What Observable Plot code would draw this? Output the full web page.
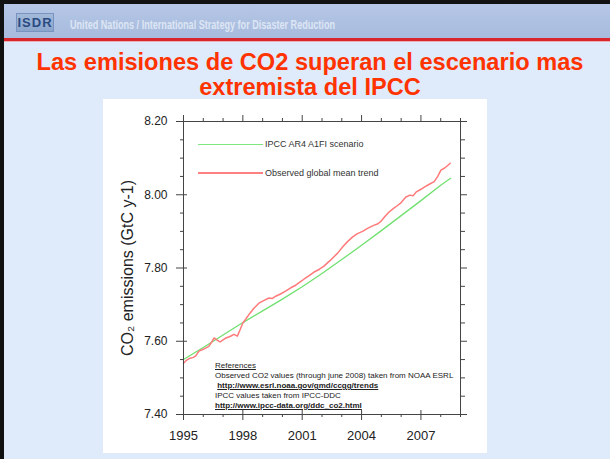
<!DOCTYPE html>
<html><head><meta charset="utf-8">
<script src="https://cdn.jsdelivr.net/npm/d3@7"></script>
<script src="https://cdn.jsdelivr.net/npm/@observablehq/plot@0.6"></script>
<style>
html,body{margin:0;padding:0;background:#dfeafb;}
body{width:610px;height:459px;overflow:hidden;font-family:"Liberation Sans",Arial,sans-serif;}
#slide{position:relative;width:610px;height:459px;background:#dfeafb;overflow:hidden;}
.abs{position:absolute;}
#header{left:0;top:0;width:610px;height:38px;background:linear-gradient(#b7c8e7,#a8bbdd);}
#redline{left:0;top:38px;width:610px;height:3px;background:#d8262c;}
#redline2{left:0;top:41px;width:610px;height:1px;background:#e9b0b8;}
#bt{left:0;top:0;width:610px;height:4px;background:#111;}
#bl{left:0;top:0;width:4px;height:459px;background:#111;}
#logo{left:16px;top:13px;width:38px;height:19px;background:linear-gradient(#a3bad9,#8aa4cc);border:1px solid #7893bf;box-sizing:border-box;font:bold 13px "Liberation Sans",Arial,sans-serif;color:#2b4a82;letter-spacing:1px;line-height:18px;text-align:center;}
#htext{left:70px;top:18px;font:bold 12px "Liberation Sans Narrow","Liberation Sans",Arial,sans-serif;color:#dde6f4;white-space:nowrap;transform-origin:0 0;}
#title{left:0;top:50px;width:620px;text-align:center;font:bold 23.6px "Liberation Sans",Arial,sans-serif;color:#ff3300;line-height:25px;}
#chart{left:103px;top:99px;width:384px;height:354px;background:#fff;}
.leg{position:absolute;height:0;}
.legt{position:absolute;font:9px "Liberation Sans",Arial,sans-serif;color:#333;white-space:nowrap;line-height:10px;}
#refs{left:215px;top:361px;font:8px "Liberation Sans",Arial,sans-serif;color:#222;line-height:10px;white-space:nowrap;}
#refs .u{text-decoration:underline;}
#refs .b{font-weight:bold;text-decoration:underline;}
</style></head>
<body>
<div id="slide">
  <div id="header" class="abs"></div>
  <div id="redline" class="abs"></div>
  <div id="redline2" class="abs"></div>
  <div id="bt" class="abs"></div>
  <div id="bl" class="abs"></div>
  <div id="logo" class="abs">ISDR</div>
  <div id="htext" class="abs">United Nations / International Strategy for Disaster Reduction</div>
  <div id="title" class="abs">Las emisiones de CO2 superan el escenario mas<br>extremista del IPCC</div>
  <div id="chart" class="abs"></div>
  <div class="leg" style="left:198px;top:144px;width:65px;border-top:1px solid #7ee87e;"></div>
  <div class="legt" style="left:265px;top:139px;">IPCC AR4 A1FI scenario</div>
  <div class="leg" style="left:198px;top:172px;width:65px;border-top:2px solid #ff8080;"></div>
  <div class="legt" style="left:265px;top:168px;">Observed global mean trend</div>
  <div id="refs" class="abs">
    <span class="u">References</span><br>
    Observed CO2 values (through june 2008) taken from NOAA ESRL<br>
    &nbsp;<span class="b">http://www.esrl.noaa.gov/gmd/ccgg/trends</span><br>
    IPCC values taken from IPCC-DDC<br>
    <span class="b">http://www.ipcc-data.org/ddc_co2.html</span>
  </div>
</div>
<script>
// IPCC AR4 A1FI scenario (green)
const scenarioYears = [1995, 1996, 1997, 1998, 1999, 2000, 2001, 2002, 2003, 2004, 2005, 2006, 2007, 2008, 2008.5];
const scenarioValues = [7.550, 7.583, 7.617, 7.651, 7.683, 7.715, 7.749, 7.785, 7.823, 7.862, 7.902, 7.943, 7.984, 8.026, 8.045];

// Observed global mean trend (red)
const observedYears = [1995.00, 1995.15, 1995.30, 1995.50, 1995.62, 1995.78, 1996.00, 1996.28, 1996.45, 1996.55, 1996.70, 1996.85,
  1997.00, 1997.15, 1997.35, 1997.55, 1997.72, 1997.85, 1998.00, 1998.14, 1998.35, 1998.56, 1998.81, 1999.05, 1999.32, 1999.50,
  1999.66, 1999.90, 2000.16, 2000.42, 2000.67, 2000.90, 2001.10, 2001.35, 2001.60, 2001.85, 2002.10, 2002.40, 2002.78, 2003.05,
  2003.29, 2003.55, 2003.79, 2004.05, 2004.30, 2004.64, 2004.80, 2004.97, 2005.20, 2005.39, 2005.60, 2005.80, 2005.99, 2006.10,
  2006.24, 2006.45, 2006.60, 2006.75, 2007.00, 2007.17, 2007.40, 2007.67, 2007.85, 2008.01, 2008.20, 2008.35, 2008.48];
const observedValues = [7.540, 7.548, 7.553, 7.556, 7.560, 7.573, 7.578, 7.586, 7.600, 7.609, 7.603, 7.598,
  7.604, 7.609, 7.613, 7.619, 7.614, 7.630, 7.650, 7.660, 7.676, 7.690, 7.704, 7.711, 7.718, 7.717,
  7.723, 7.729, 7.737, 7.746, 7.753, 7.762, 7.770, 7.779, 7.789, 7.796, 7.805, 7.820, 7.840, 7.858,
  7.872, 7.885, 7.894, 7.900, 7.908, 7.917, 7.920, 7.927, 7.942, 7.953, 7.962, 7.970, 7.978, 7.985,
  7.994, 7.999, 7.997, 8.007, 8.015, 8.021, 8.028, 8.036, 8.050, 8.067, 8.073, 8.080, 8.086];

// Axis ticks
const majorYears = [1995, 1998, 2001, 2004, 2007];
const minorYears = [1996, 1997, 1999, 2000, 2002, 2003, 2005, 2006, 2008, 2009];
const majorY = [7.40, 7.60, 7.80, 8.00, 8.20];
const minorY = [7.45, 7.50, 7.55, 7.65, 7.70, 7.75, 7.85, 7.90, 7.95, 8.05, 8.10, 8.15];
const yLabel = "CO\u2082 emissions (GtC y-1)";

const scenario = scenarioYears.map((x, i) => ({year: x, value: scenarioValues[i]}));
const observed = observedYears.map((x, i) => ({year: x, value: observedValues[i]}));

const axisStroke = "#444";
const plot = Plot.plot({
  width: 384, height: 354,
  marginLeft: 80, marginRight: 27, marginTop: 22, marginBottom: 39,
  style: {background: "white", fontFamily: "'Liberation Sans', Arial, sans-serif", color: "#222", overflow: "visible"},
  x: {domain: [1995, 2009], label: null},
  y: {domain: [7.40, 8.20], label: null},
  marks: [
    Plot.line(scenario, {x: "year", y: "value", stroke: "#70e070", strokeWidth: 1.3}),
    Plot.line(observed, {x: "year", y: "value", stroke: "#ff7a7a", strokeWidth: 1.5}),
    Plot.frame({stroke: axisStroke}),
    Plot.axisX({ticks: majorYears, anchor: "bottom", tickSize: 6, tickPadding: 10, fontSize: 13, tickFormat: d3.format("d"), stroke: axisStroke, fill: "#222", label: null}),
    Plot.axisX({ticks: majorYears, anchor: "bottom", tickSize: -4, fill: "none", stroke: axisStroke, label: null}),
    Plot.axisX({ticks: minorYears, anchor: "bottom", tickSize: 3, fill: "none", stroke: axisStroke, label: null}),
    Plot.axisX({ticks: majorYears, anchor: "top", tickSize: 7, fill: "none", stroke: axisStroke, label: null}),
    Plot.axisX({ticks: minorYears, anchor: "top", tickSize: 4, fill: "none", stroke: axisStroke, label: null}),
    Plot.axisY({ticks: majorY, anchor: "left", tickSize: 7, tickPadding: 9, fontSize: 12, tickFormat: d3.format(".2f"), stroke: axisStroke, fill: "#222", label: null}),
    Plot.axisY({ticks: majorY, anchor: "left", tickSize: -4, fill: "none", stroke: axisStroke, label: null}),
    Plot.axisY({ticks: minorY, anchor: "left", tickSize: 3, fill: "none", stroke: axisStroke, label: null}),
    Plot.axisY({ticks: majorY, anchor: "right", tickSize: 6, fill: "none", stroke: axisStroke, label: null}),
    Plot.axisY({ticks: minorY, anchor: "right", tickSize: 4, fill: "none", stroke: axisStroke, label: null}),
    Plot.text([yLabel], {frameAnchor: "left", rotate: -90, dx: -56, fontSize: 16, textAnchor: "middle", lineAnchor: "middle", fill: "#222"})
  ]
});
document.getElementById("chart").appendChild(plot);

// fit header text width
const ht = document.getElementById("htext");
const w = ht.getBoundingClientRect().width;
ht.style.transform = `scaleX(${265 / w})`;
</script>
</body></html>
